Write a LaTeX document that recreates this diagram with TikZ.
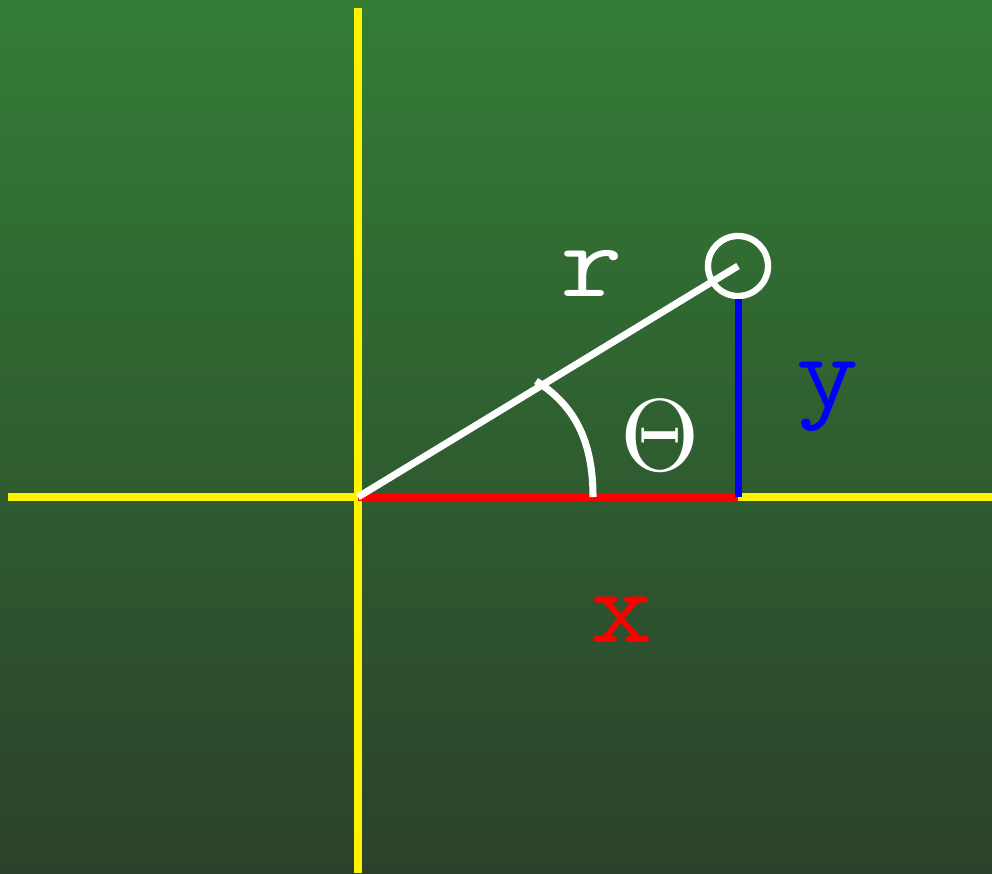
\documentclass[tikz,border=0pt]{standalone}
\usetikzlibrary{positioning,calc}
\definecolor{bgtop}{RGB}{51,125,53}
\definecolor{bgbot}{RGB}{43,65,43}
\newcommand{\wide}[1]{\scalebox{1.15}[1]{#1}}
\tikzset{
  axis/.style  ={draw=yellow,line width=2pt},
  radius/.style={draw=white,line width=2pt},
  xpart/.style ={draw=red,line width=2pt},
  ypart/.style ={draw=blue,line width=2pt},
  pt/.style    ={circle,draw=white,line width=1.8pt,minimum size=0.6cm,inner sep=0pt},
  lbl/.style   ={font=\fontsize{30}{34}\selectfont\ttfamily,inner sep=0pt},
  ang/.style   ={text=white,inner sep=0pt},
}
\begin{document}
\begin{tikzpicture}[x=0.01cm,y=-0.01cm]
  \shade[top color=bgtop,bottom color=bgbot] (0,0) rectangle (992,873);
  \useasboundingbox (0,0) rectangle (992,873);
  % axes
  \coordinate (O) at (358,497);
  \coordinate (L) at (8,497);  \coordinate (R) at (992,497);
  \coordinate (T) at (358,8);  \coordinate (B) at (358,873);
  \draw[axis] (L) -- (R);
  \draw[axis] (T) -- (B);
  % point and its parts
  \node[pt] (P) at (738,266) {};
  \coordinate (X) at (738,497);
  \coordinate (A0) at (593,497); \coordinate (A1) at (536,381);
  \draw[xpart] (O) -- (X);
  \draw[ypart] (X) -- (P.south);
  \draw[radius] (O) -- (P.center);
  \draw[radius] (A0) .. controls (593,440) and (574,405) .. (A1);
  % labels
  \node[lbl,text=white] (r) at (592,273) {\wide{r}};
  \node[ang] (th) at (660,436) {\scalebox{2.9}{$\Theta$}};
  \node[lbl,text=blue] (y) at (828,397) {\wide{y}};
  \node[lbl,text=red] (x) at (622,620) {\wide{x}};
\end{tikzpicture}
\end{document}
